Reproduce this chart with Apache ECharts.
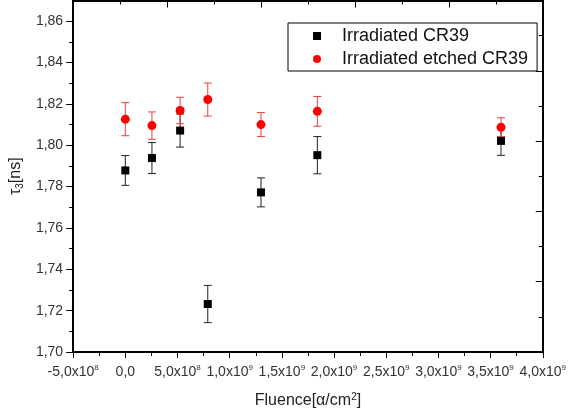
<!DOCTYPE html>
<html>
<head>
<meta charset="utf-8">
<script src="https://cdn.jsdelivr.net/npm/echarts@6/dist/echarts.min.js"></script>
<style>
  html, body { margin: 0; padding: 0; background: #fff; }
  #chart { width: 569px; height: 418px; }
</style>
</head>
<body>
<div id="chart"></div>
<script>
// fluence values (alpha/cm^2), shared by both samples
var fluence = [0, 2.55e8, 5.25e8, 7.9e8, 1.3e9, 1.84e9, 3.6e9];
// tau3 in ns with errors
var crTau = [1.7878, 1.7938, 1.8071, 1.7232, 1.7772, 1.7952, 1.8021];
var crErr = [0.0072, 0.0075, 0.0080, 0.0090, 0.0070, 0.0090, 0.0070];
var etchTau = [1.8126, 1.8095, 1.8168, 1.8221, 1.8100, 1.8164, 1.8087];
var etchErr = [0.0080, 0.0066, 0.0064, 0.0080, 0.0058, 0.0072, 0.0046];
var seriesNames = ['Irradiated CR39', 'Irradiated etched CR39'];
var yMajor = [1.70, 1.72, 1.74, 1.76, 1.78, 1.80, 1.82, 1.84, 1.86];
var yMinor = [1.71, 1.73, 1.75, 1.77, 1.79, 1.81, 1.83, 1.85];

var font = 'Liberation Sans, Arial, sans-serif';

function pairs(xs, ys, es) {
    return xs.map(function (x, i) { return es ? [x, ys[i], es[i]] : [x, ys[i]]; });
}

function xLabel(v) {
    if (v === 0) return '{a|0,0}';
    var exp = Math.floor(Math.log10(Math.abs(v)) + 1e-9);
    var m = v / Math.pow(10, exp);
    return '{a|' + m.toFixed(1).replace('.', ',') + 'x10}{s|' + exp + '}';
}

function errorBars(color) {
    return function (params, api) {
        var x = api.value(0), y = api.value(1), e = api.value(2);
        var hi = api.coord([x, y + e]);
        var lo = api.coord([x, y - e]);
        var st = { stroke: color, lineWidth: 1 };
        var cap = 4;
        return {
            type: 'group',
            children: [
                { type: 'line', shape: { x1: hi[0], y1: hi[1], x2: lo[0], y2: lo[1] }, style: st },
                { type: 'line', shape: { x1: hi[0] - cap, y1: hi[1], x2: hi[0] + cap, y2: hi[1] }, style: st },
                { type: 'line', shape: { x1: lo[0] - cap, y1: lo[1], x2: lo[0] + cap, y2: lo[1] }, style: st }
            ]
        };
    };
}

var axisLine = { show: true, onZero: false, lineStyle: { color: '#000', width: 2 } };

var chart = echarts.init(document.getElementById('chart'));
chart.setOption({
    animation: false,
    backgroundColor: '#fff',
    textStyle: { fontFamily: font },
    grid: { left: 72.5, right: 25, top: 0.5, bottom: 66 },
    legend: {
        orient: 'vertical',
        left: 288,
        top: 23,
        padding: [4, 9, 3, 25],
        borderColor: '#000',
        borderWidth: 1,
        itemGap: 5,
        itemWidth: 8,
        itemHeight: 8,
        textStyle: { fontSize: 18, color: '#111', fontFamily: font, lineHeight: 18, padding: [0, 0, 0, 16] },
        data: [
            { name: seriesNames[0], icon: 'rect' },
            { name: seriesNames[1], icon: 'circle' }
        ]
    },
    xAxis: [{
        type: 'value',
        min: -5e8,
        max: 4e9,
        interval: 5e8,
        axisLine: axisLine,
        splitLine: { show: false },
        axisTick: { inside: false, length: 6, lineStyle: { color: '#000', width: 1 } },
        minorTick: { show: true, splitNumber: 2, length: 4, lineStyle: { color: '#000', width: 1 } },
        axisLabel: {
            margin: 12,
            formatter: xLabel,
            rich: {
                a: { fontSize: 14, color: '#333', fontFamily: font, lineHeight: 16 },
                s: { fontSize: 8, color: '#333', fontFamily: font, lineHeight: 9, verticalAlign: 'top' }
            }
        },
        name: '{a|Fluence[α/cm}{s|2}{a|]}',
        nameLocation: 'middle',
        nameGap: 40,
        nameTextStyle: {
            rich: {
                a: { fontSize: 16, color: '#222', fontFamily: font, lineHeight: 18 },
                s: { fontSize: 10, color: '#222', fontFamily: font, lineHeight: 10, verticalAlign: 'top' }
            }
        }
    }, {
        type: 'value',
        position: 'top',
        min: 0,
        max: 5,
        interval: 1,
        axisLine: axisLine,
        splitLine: { show: false },
        axisLabel: { show: false },
        axisTick: { inside: true, length: 7, lineStyle: { color: '#000', width: 1 } },
        minorTick: { show: true, splitNumber: 2, length: 4, lineStyle: { color: '#000', width: 1 } }
    }],
    yAxis: [{
        type: 'value',
        min: 1.70,
        max: 1.87,
        axisLine: axisLine,
        splitLine: { show: false },
        axisTick: { customValues: yMajor, inside: false, length: 7, lineStyle: { color: '#000', width: 1 } },
        axisLabel: {
            customValues: yMajor,
            margin: 10,
            fontSize: 14,
            color: '#333',
            fontFamily: font,
            formatter: function (v) { return v.toFixed(2).replace('.', ','); }
        },
        name: '{a|τ}{b|3}{a|[ns]}',
        nameLocation: 'middle',
        nameRotate: 90,
        nameGap: 47,
        nameTextStyle: {
            rich: {
                a: { fontSize: 16, color: '#222', fontFamily: font, lineHeight: 18 },
                b: { fontSize: 10, color: '#222', fontFamily: font, lineHeight: 18, verticalAlign: 'bottom' }
            }
        }
    }, {
        type: 'value',
        position: 'left',
        min: 1.70,
        max: 1.87,
        axisLine: { show: false, onZero: false },
        splitLine: { show: false },
        axisLabel: { show: false },
        axisTick: { customValues: yMinor, inside: false, length: 4, lineStyle: { color: '#000', width: 1 } }
    }, {
        type: 'value',
        position: 'right',
        min: 0,
        max: 5,
        interval: 1,
        axisLine: axisLine,
        splitLine: { show: false },
        axisLabel: { show: false },
        axisTick: { inside: true, length: 7, lineStyle: { color: '#000', width: 1 } },
        minorTick: { show: true, splitNumber: 2, length: 4, lineStyle: { color: '#000', width: 1 } }
    }],
    series: [{
        type: 'custom',
        name: 'err1',
        xAxisIndex: 0,
        yAxisIndex: 0,
        renderItem: errorBars('#222'),
        encode: { x: 0, y: 1 },
        data: pairs(fluence, crTau, crErr),
        z: 1
    }, {
        type: 'custom',
        name: 'err2',
        xAxisIndex: 0,
        yAxisIndex: 0,
        renderItem: errorBars('#f03a3a'),
        encode: { x: 0, y: 1 },
        data: pairs(fluence, etchTau, etchErr),
        z: 1
    }, {
        type: 'scatter',
        name: seriesNames[0],
        xAxisIndex: 0,
        yAxisIndex: 0,
        symbol: 'rect',
        symbolSize: 8,
        itemStyle: { color: '#000', opacity: 1 },
        data: pairs(fluence, crTau),
        z: 3
    }, {
        type: 'scatter',
        name: seriesNames[1],
        xAxisIndex: 0,
        yAxisIndex: 0,
        symbol: 'circle',
        symbolSize: 9,
        itemStyle: { color: '#ff0000', opacity: 1 },
        data: pairs(fluence, etchTau),
        z: 3
    }]
});
</script>
</body>
</html>
